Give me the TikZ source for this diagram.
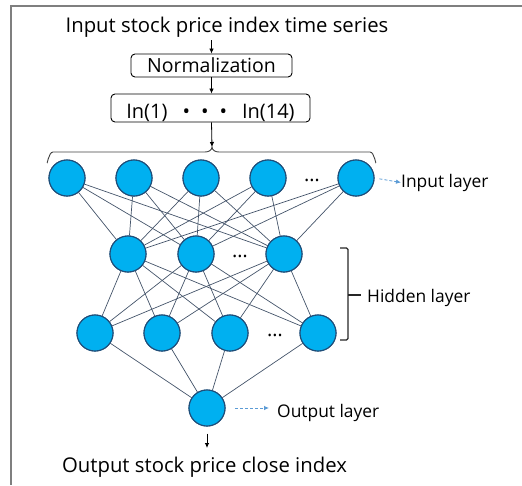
\documentclass[tikz,border=0pt]{standalone}
\usepackage{fontspec}
\setmainfont{Open Sans}
\usetikzlibrary{arrows.meta}
\definecolor{nodefill}{HTML}{00B0F0}
\definecolor{nodeedge}{HTML}{1F4E79}
\definecolor{wirecol}{HTML}{44546A}
\definecolor{hintcol}{HTML}{5B9BD5}
\definecolor{framecol}{HTML}{7F7F7F}
\begin{document}
\begin{tikzpicture}[x=1pt,y=-1pt,
  neuron/.style={circle,draw=nodeedge,fill=nodefill,line width=1.1pt,minimum size=36pt,inner sep=0pt},
  wire/.style={draw=wirecol,line width=0.7pt},
  flow/.style={-{Latex[length=5pt,width=4.5pt]},line width=0.8pt},
  hintarrow/.style={hintcol,densely dashed,line width=0.8pt,-{Latex[length=5pt,width=4.5pt]}},
  stepbox/.style={draw,rounded corners=4pt,line width=0.9pt,inner ysep=0pt,inner xsep=0pt},
  bigtxt/.style={inner sep=0pt,font=\fontsize{20.3}{24}\selectfont},
  txt/.style={inner sep=0pt,font=\fontsize{17.4}{21}\selectfont},
  dotsl/.style={inner sep=0pt,font=\fontsize{20}{22}\selectfont}
]
\useasboundingbox (0,0) rectangle (522,485);
% outer frame (only left and top edges fall inside the page)
\draw[framecol,line width=1.5pt] (522,6) -- (11,6) -- (11,485);

% header and preprocessing boxes
\node[bigtxt,anchor=base] (title) at (227,32) {Input stock price index time series};
\node[stepbox,font=\fontsize{19.5}{22}\selectfont,text height=18pt,text depth=5pt,minimum width=161pt] (norm) at (211.5,65.5) {Normalization};
\node[stepbox,font=\fontsize{20}{24}\selectfont,text height=24pt,text depth=4pt,minimum width=199pt] (inbox) at (210.5,108)
  {In(1)\hspace{15pt}•\hspace{11pt}•\hspace{11pt}•\hspace{15pt}In(14)};
\coordinate (tip) at (212,147);

\draw[flow] (norm.north |- title.south) ++(0,3) -- (norm.north);
\draw[flow] (norm.south) -- (norm.south |- inbox.north);
\draw[flow] (norm.south |- inbox.south) -- (tip);

% brace over the input layer
\draw[line width=0.9pt,draw=black!75] (47,162) to[out=-90,in=180] (53,152) -- (205,152)
  to[out=0,in=-90] (tip) to[out=-90,in=180] (219,152) -- (370,152) to[out=0,in=-90] (376,162);

% layers
\foreach \n/\x in {1/67,2/134,3/201,4/268,5/356} \node[neuron] (i\n) at (\x,178) {};
\foreach \n/\x in {1/128,2/196,3/284} \node[neuron] (h\n) at (\x,254) {};
\foreach \n/\x in {1/95,2/162,3/230,4/318} \node[neuron] (g\n) at (\x,333) {};
\node[neuron] (o) at (207,408) {};

\node[dotsl] (d1) at (312,180) {…};
\node[dotsl] (d2) at (240,256) {…};
\node[dotsl] (d3) at (275,335) {…};

% fully connected weights between consecutive layers
\foreach \a in {1,...,5} \foreach \b in {1,2,3} \draw[wire] (i\a) -- (h\b);
\foreach \a in {1,2,3} \foreach \b in {1,...,4} \draw[wire] (h\a) -- (g\b);
\foreach \a in {1,...,4} \draw[wire] (g\a) -- (o);
% redraw neurons above the wires
\foreach \n in {i1,i2,i3,i4,i5,h1,h2,h3,g1,g2,g3,g4,o}
  \path (\n) node[neuron] {};

% layer labels
\node[txt,anchor=base west] (inlab) at (401,187) {Input layer};
\draw[hintarrow,shorten <=5pt] (i5.east) -- (inlab.west);

\node[txt,anchor=base west] (hidlab) at (367,302) {Hidden layer};
\draw[line width=1.1pt,draw=black!85,rounded corners=1.5pt] (340,248) -- (348,248) -- (348,340) -- (340,340);
\coordinate (hb) at (348,295);
\draw[line width=1.1pt,draw=black!85,shorten >=6pt] (hb) -- (hb -| hidlab.west);

\node[txt,anchor=base west] (outlab) at (277,417) {Output layer};
\draw[hintarrow,shorten <=9.5pt,shorten >=8pt] (o.east) -- (o.east -| outlab.west);

\node[bigtxt,anchor=base] (result) at (204.5,472) {Output stock price close index};
\draw[flow,shorten <=7pt] (o.south) -- (o.south |- 0,448);
\end{tikzpicture}
\end{document}
